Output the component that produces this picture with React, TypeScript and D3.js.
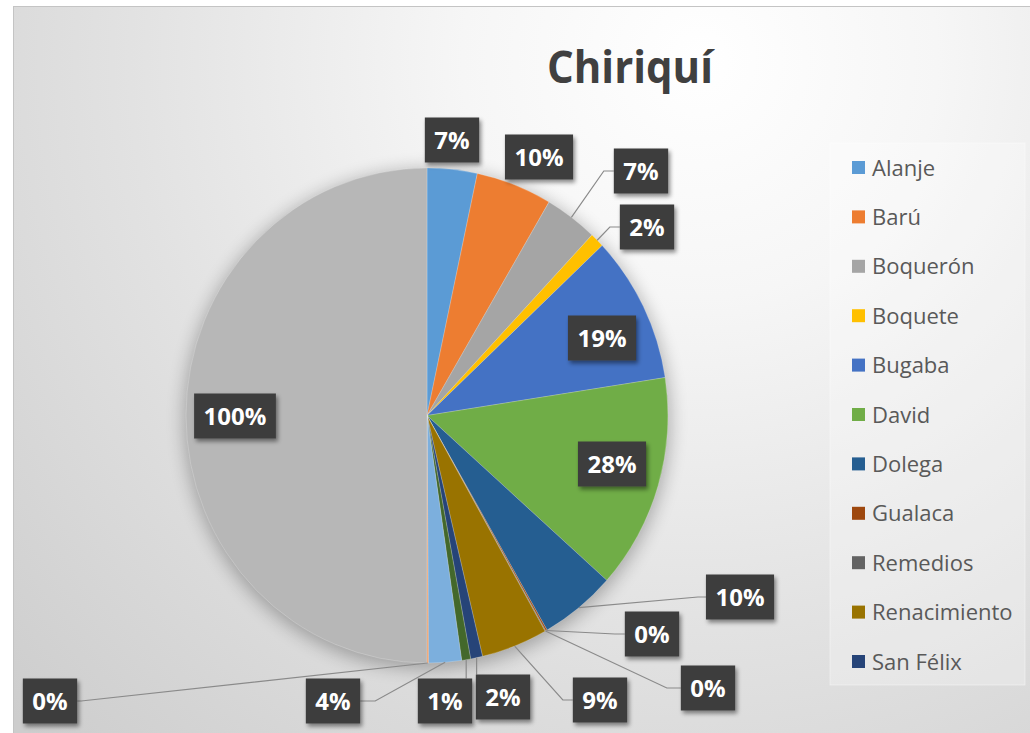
import React, { useEffect, useRef } from "react";
import * as d3 from "d3";

const categories = [
  "Alanje", "Barú", "Boquerón", "Boquete", "Bugaba", "David", "Dolega",
  "Gualaca", "Remedios", "Renacimiento", "San Félix", "San Lorenzo",
  "Tierras Altas", "Tolé", "Total",
];
const values = [
  0.067, 0.102, 0.071, 0.019, 0.192, 0.281, 0.102,
  0.002, 0.001, 0.089, 0.016, 0.012, 0.044, 0.002, 1.0,
];
const colors = [
  "#5B9BD5", "#ED7D31", "#A5A5A5", "#FFC000", "#4472C4", "#70AD47", "#255E91",
  "#9E480E", "#636363", "#997300", "#264478", "#43682B", "#7CAFDD", "#F1975A", "#B7B7B7",
];
const legendCount = 11;
const title = "Chiriquí";

// label layout (box centers, leader attachment)
const labelLayout: { x: number; y: number; side?: string; elbow?: number }[] = [
  { x: 452, y: 140 },
  { x: 539, y: 157 },
  { x: 641, y: 171, side: "left", elbow: 10 },
  { x: 647, y: 227, side: "left", elbow: 10 },
  { x: 602, y: 338 },
  { x: 612, y: 464 },
  { x: 740, y: 597, side: "left", elbow: 8 },
  { x: 652, y: 634, side: "left", elbow: 10 },
  { x: 708, y: 688, side: "left", elbow: 14 },
  { x: 600, y: 700, side: "left", elbow: 10 },
  { x: 503, y: 697, side: "top" },
  { x: 445, y: 701, side: "top" },
  { x: 333, y: 701, side: "right", elbow: 15 },
  { x: 50, y: 701, side: "right", elbow: 4 },
  { x: 235, y: 416 },
];

export default function App() {
  const ref = useRef<SVGSVGElement>(null);

  useEffect(() => {
    const W = 1030, H = 733;
    const cx = 427, cy = 415.5, R = 241, sy = 1.027;
    const svg = d3.select(ref.current!);
    svg.selectAll("*").remove();

    const defs = svg.append("defs");
    const bg = defs.append("radialGradient").attr("id", "bg")
      .attr("gradientUnits", "userSpaceOnUse")
      .attr("cx", 700).attr("cy", 60).attr("r", 950);
    [[0, "#ffffff"], [0.25, "#f6f6f6"], [0.6, "#e2e2e2"], [1, "#cdcdcd"]].forEach(([o, c]) =>
      bg.append("stop").attr("offset", o as number).attr("stop-color", c as string));

    const blur = defs.append("filter").attr("id", "pieShadow")
      .attr("x", "-20%").attr("y", "-20%").attr("width", "140%").attr("height", "140%");
    blur.append("feGaussianBlur").attr("stdDeviation", 9);

    const ds = defs.append("filter").attr("id", "boxShadow")
      .attr("x", "-30%").attr("y", "-30%").attr("width", "160%").attr("height", "160%");
    ds.append("feDropShadow").attr("dx", 2).attr("dy", 3).attr("stdDeviation", 2)
      .attr("flood-color", "#000").attr("flood-opacity", 0.45);

    svg.append("rect").attr("width", W).attr("height", H).attr("fill", "#ffffff");
    svg.append("rect").attr("x", 13.5).attr("y", 6.5).attr("width", W).attr("height", H)
      .attr("fill", "url(#bg)").attr("stroke", "#c4c4c4").attr("stroke-width", 1);

    // title
    svg.append("text").attr("x", 630).attr("y", 83).attr("text-anchor", "middle")
      .attr("font-family", "'Open Sans', sans-serif").attr("font-weight", 700)
      .attr("font-size", 44).attr("fill", "#404040")
      .attr("textLength", 166).attr("lengthAdjust", "spacingAndGlyphs")
      .text(title);

    // pie
    const pie = d3.pie<number>().sort(null).value((d) => d);
    const arcs = pie(values);
    const arc = d3.arc<d3.PieArcDatum<number>>().innerRadius(0).outerRadius(R);

    const g = svg.append("g").attr("transform", `translate(${cx},${cy}) scale(1,${sy})`);
    g.append("circle").attr("cx", 0).attr("cy", 4).attr("r", R + 2)
      .attr("fill", "#000").attr("opacity", 0.28).attr("filter", "url(#pieShadow)");
    g.selectAll("path.slice").data(arcs).enter().append("path")
      .attr("class", "slice")
      .attr("d", (d) => arc(d) as string)
      .attr("fill", (_, i) => colors[i])
      .attr("stroke", "rgba(255,255,255,0.35)")
      .attr("stroke-width", 0.6);

    // leader lines
    const fmt = d3.format(".0%");
    const BH = 45;
    const lab = svg.append("g");

    const boxes: { x: number; y: number; w: number; t: string }[] = [];
    arcs.forEach((a, i) => {
      const t = fmt(values[i]);
      const tmp = lab.append("text").attr("font-family", "'Open Sans', sans-serif")
        .attr("font-weight", 700).attr("font-size", 24).text(t);
      const tw = (tmp.node() as SVGTextElement).getComputedTextLength();
      tmp.remove();
      boxes.push({ x: labelLayout[i].x, y: labelLayout[i].y, w: tw + 19, t });
    });

    arcs.forEach((a, i) => {
      const L = labelLayout[i];
      if (!L.side) return;
      const mid = (a.startAngle + a.endAngle) / 2;
      const sx = cx + R * Math.sin(mid);
      const syy = cy - R * Math.cos(mid) * sy;
      const b = boxes[i];
      let pts: [number, number][];
      if (L.side === "left") {
        const ex = b.x - b.w / 2;
        pts = [[sx, syy], [ex - (L.elbow || 0), b.y], [ex, b.y]];
      } else if (L.side === "right") {
        const ex = b.x + b.w / 2;
        pts = [[sx, syy], [ex + (L.elbow || 0), b.y], [ex, b.y]];
      } else {
        pts = [[sx, syy], [sx, b.y - BH / 2]];
      }
      lab.append("path").attr("d", d3.line()(pts) as string)
        .attr("fill", "none").attr("stroke", "#8a8a8a").attr("stroke-width", 1.2);
    });

    boxes.forEach((b) => {
      lab.append("rect").attr("x", b.x - b.w / 2).attr("y", b.y - BH / 2)
        .attr("width", b.w).attr("height", BH).attr("fill", "#3d3d3d")
        .attr("filter", "url(#boxShadow)");
      lab.append("text").attr("x", b.x).attr("y", b.y + 8.5).attr("text-anchor", "middle")
        .attr("font-family", "'Open Sans', sans-serif").attr("font-weight", 700)
        .attr("font-size", 24).attr("fill", "#ffffff").text(b.t);
    });

    // legend
    const lg = svg.append("g");
    lg.append("rect").attr("x", 830).attr("y", 143).attr("width", 195).attr("height", 542)
      .attr("fill", "rgba(255,255,255,0.28)").attr("stroke", "rgba(255,255,255,0.4)");
    const ly = d3.scalePoint<string>().domain(categories.slice(0, legendCount))
      .range([167.5, 661.5]);
    categories.slice(0, legendCount).forEach((c, i) => {
      const y = ly(c)!;
      lg.append("rect").attr("x", 852).attr("y", y - 6.5).attr("width", 13).attr("height", 13)
        .attr("fill", colors[i]);
      lg.append("text").attr("x", 872).attr("y", y + 8)
        .attr("font-family", "'Open Sans', sans-serif").attr("font-size", 22)
        .attr("fill", "#595959").text(c);
    });
  }, []);

  return (
    <svg ref={ref} width={1030} height={733}
      style={{ position: "absolute", left: 0, top: 0, display: "block" }} />
  );
}
